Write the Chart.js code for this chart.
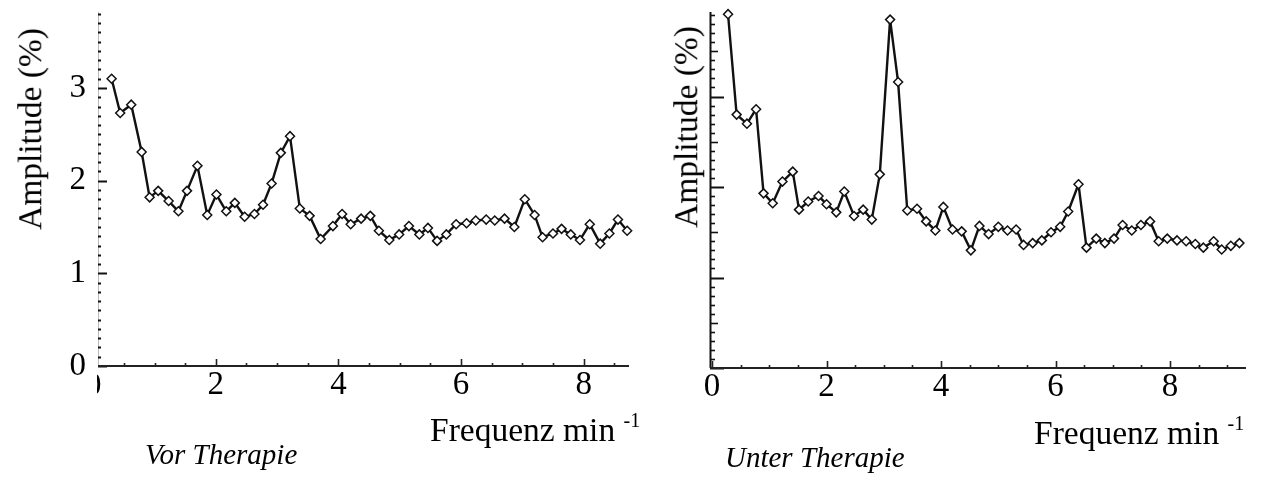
<!DOCTYPE html>
<html><head><meta charset="utf-8">
<script src="https://cdn.jsdelivr.net/npm/chart.js@4.4.0/dist/chart.umd.min.js"></script>
<style>
html,body{margin:0;padding:0;background:#fff;}
body{width:1269px;height:483px;position:relative;overflow:hidden;font-family:'Liberation Serif','Times New Roman',serif;color:#000;}
canvas{position:absolute;top:0;}
#c1{left:0;} #c2{left:640px;}
.ytitle{position:absolute;font-size:33.5px;white-space:nowrap;line-height:1;transform:translate(-50%,-50%) rotate(-90deg);}
.xtitle{position:absolute;font-size:33.5px;white-space:nowrap;line-height:1;}
.xtitle sup{font-size:20px;vertical-align:0;position:relative;top:-14px;}
.caption{position:absolute;font-size:29px;font-style:italic;white-space:nowrap;line-height:1;}
</style></head>
<body>
<canvas id="c1" width="640" height="483"></canvas>
<canvas id="c2" width="629" height="483"></canvas>
<div class="ytitle" style="left:30px;top:129px;">Amplitude (%)</div>
<div class="ytitle" style="left:686px;top:127px;">Amplitude (%)</div>
<div class="xtitle" style="left:430px;top:413px;">Frequenz min <sup>-1</sup></div>
<div class="xtitle" style="left:1034px;top:416px;">Frequenz min <sup>-1</sup></div>
<div class="caption" style="left:145px;top:440px;">Vor Therapie</div>
<div class="caption" style="left:725px;top:443px;">Unter Therapie</div>
<script>
// ---- data: "Vor Therapie" (before therapy) ----
const vorFreq = [0.30,0.44,0.62,0.79,0.92,1.06,1.23,1.39,1.53,1.70,1.86,2.01,2.17,2.31,2.47,2.63,2.77,2.91,3.06,3.21,3.37,3.53,3.71,3.91,4.06,4.20,4.37,4.52,4.66,4.83,4.99,5.15,5.32,5.46,5.61,5.76,5.92,6.09,6.24,6.41,6.55,6.71,6.87,7.04,7.20,7.33,7.50,7.64,7.79,7.94,8.10,8.27,8.42,8.56,8.71];
const vorAmp  = [3.10,2.73,2.82,2.31,1.82,1.89,1.78,1.67,1.89,2.16,1.63,1.85,1.67,1.76,1.61,1.64,1.74,1.97,2.30,2.48,1.70,1.62,1.37,1.51,1.64,1.53,1.59,1.62,1.46,1.36,1.42,1.51,1.42,1.49,1.35,1.42,1.53,1.54,1.57,1.58,1.57,1.59,1.50,1.80,1.63,1.39,1.43,1.48,1.42,1.36,1.53,1.32,1.43,1.58,1.46];
// ---- data: "Unter Therapie" (under therapy) ----
const unterFreq = [0.28,0.43,0.61,0.77,0.90,1.06,1.23,1.41,1.52,1.68,1.86,2.00,2.17,2.31,2.48,2.64,2.79,2.93,3.11,3.25,3.41,3.58,3.74,3.90,4.04,4.20,4.36,4.52,4.67,4.83,5.00,5.16,5.31,5.44,5.60,5.76,5.92,6.08,6.22,6.40,6.54,6.71,6.86,7.02,7.17,7.33,7.49,7.65,7.80,7.95,8.12,8.28,8.44,8.58,8.76,8.90,9.06,9.21];
const unterAmp  = [3.91,2.80,2.70,2.86,1.93,1.82,2.06,2.17,1.75,1.84,1.90,1.81,1.72,1.95,1.68,1.75,1.64,2.14,3.85,3.16,1.74,1.76,1.62,1.52,1.78,1.53,1.51,1.30,1.57,1.48,1.56,1.52,1.53,1.36,1.38,1.41,1.50,1.56,1.73,2.03,1.33,1.43,1.38,1.43,1.58,1.52,1.58,1.62,1.40,1.43,1.41,1.40,1.37,1.33,1.40,1.31,1.35,1.38];
// ---- tick labels ----
const vorXTicks = [2,4,6,8];
const vorClippedXTick = 0;
const vorYTicks = [0,1,2,3];
const unterXTicks = [0,2,4,6,8];

const FONT_FAMILY = "'Liberation Serif','Times New Roman',serif";
const TICK_SIZE = 33;
const tickFont = {family: FONT_FAMILY, size: TICK_SIZE};

const axisPlugin = {
  id: 'axisTicks',
  beforeDatasetsDraw(chart, args, o) {
    const {ctx, chartArea: a, scales: {x, y}} = chart;
    ctx.save();
    // y axis line
    ctx.strokeStyle = o.yLineColor; ctx.lineWidth = o.yLineWidth;
    ctx.beginPath(); ctx.moveTo(a.left + 0.5, a.top); ctx.lineTo(a.left + 0.5, a.bottom); ctx.stroke();
    // y ticks (every 0.1, inward)
    ctx.strokeStyle = '#111';
    const n = Math.floor(y.max * 10 + 1e-6);
    for (let i = 0; i <= n; i++) {
      const py = Math.round(y.getPixelForValue(i / 10)) + 0.5;
      let len = o.yMinor, w = o.yMinorW;
      if (i % 10 === 0) { len = o.yMajor; w = 2; } else if (i % 5 === 0) { len = o.yMid; }
      ctx.lineWidth = w;
      ctx.beginPath(); ctx.moveTo(a.left, py); ctx.lineTo(a.left + len, py); ctx.stroke();
    }
    // x axis line
    ctx.strokeStyle = '#222'; ctx.lineWidth = 2.2;
    ctx.beginPath(); ctx.moveTo(a.left, a.bottom); ctx.lineTo(a.right, a.bottom); ctx.stroke();
    // x ticks (every 0.5, inward)
    ctx.lineWidth = 1.6;
    for (let v = Math.ceil(x.min * 2) / 2; v <= x.max + 1e-9; v += 0.5) {
      const px = Math.round(x.getPixelForValue(v)) + 0.5;
      const major = Math.abs(v / 2 - Math.round(v / 2)) < 1e-6;
      const len = major ? 7 : 3;
      ctx.beginPath(); ctx.moveTo(px, a.bottom); ctx.lineTo(px, a.bottom - len); ctx.stroke();
    }
    ctx.restore();
  },
  afterDraw(chart, args, o) {
    if (o.clippedTick === undefined) return;
    const {ctx, chartArea: a, scales: {x}} = chart;
    ctx.save();
    ctx.beginPath(); ctx.rect(a.left - 1, a.bottom, 40, 60); ctx.clip();
    ctx.font = TICK_SIZE + "px " + FONT_FAMILY; ctx.fillStyle = '#000';
    ctx.textAlign = 'center'; ctx.textBaseline = 'middle';
    ctx.fillText(String(o.clippedTick), x.getPixelForValue(o.clippedTick), a.bottom + o.labelOffset);
    ctx.restore();
  }
};

function makeChart(id, xs, ys, cfg) {
  return new Chart(document.getElementById(id), {
    type: 'line',
    data: { datasets: [{
      data: xs.map((v, i) => ({x: v, y: ys[i]})),
      borderColor: '#111', borderWidth: 2.4, tension: 0, clip: false,
      pointStyle: 'rectRot', pointRadius: 4.5, pointBackgroundColor: '#fff',
      pointBorderColor: '#111', pointBorderWidth: 1.5
    }]},
    options: {
      responsive: false, animation: false, devicePixelRatio: 1,
      layout: {padding: cfg.padding},
      plugins: {legend: {display: false}, tooltip: {enabled: false}, axisTicks: cfg.axis},
      scales: {
        x: {type: 'linear', min: cfg.xmin, max: cfg.xmax,
            grid: {display: false, drawTicks: false}, border: {display: false},
            afterBuildTicks: s => { s.ticks = cfg.xTicks.map(v => ({value: v})); },
            ticks: {font: tickFont, color: '#000', padding: 0, maxRotation: 0, autoSkip: false},
            afterFit: s => { s.height = cfg.xHeight; s.paddingLeft = 0; s.paddingRight = 0; }},
        y: {min: 0, max: cfg.ymax,
            grid: {display: false, drawTicks: false}, border: {display: false},
            afterBuildTicks: s => { s.ticks = cfg.yTicks.map(v => ({value: v})); },
            ticks: {display: cfg.yLabels, font: tickFont, color: '#000', padding: 12},
            afterFit: s => { s.width = cfg.yWidth; s.paddingTop = 0; s.paddingBottom = 0; }}
      }
    },
    plugins: [axisPlugin]
  });
}

makeChart('c1', vorFreq, vorAmp, {
  padding: {top: 12, right: 11, bottom: 0, left: 0},
  xmin: 0.078, xmax: 8.74, ymax: 3.82, xTicks: vorXTicks, yTicks: vorYTicks,
  yLabels: true, yWidth: 98, xHeight: 117,
  axis: {yLineColor: '#bbb', yLineWidth: 1, yMinor: 3, yMinorW: 2, yMid: 3, yMajor: 9,
         clippedTick: vorClippedXTick, labelOffset: 20}
});
makeChart('c2', unterFreq, unterAmp, {
  padding: {top: 12, right: 23, bottom: 0, left: 0},
  xmin: -0.035, xmax: 9.325, ymax: 3.934, xTicks: unterXTicks, yTicks: [],
  yLabels: false, yWidth: 70, xHeight: 115,
  axis: {yLineColor: '#111', yLineWidth: 2, yMinor: 5, yMinorW: 1.6, yMid: 8, yMajor: 14}
});
</script>
</body></html>
